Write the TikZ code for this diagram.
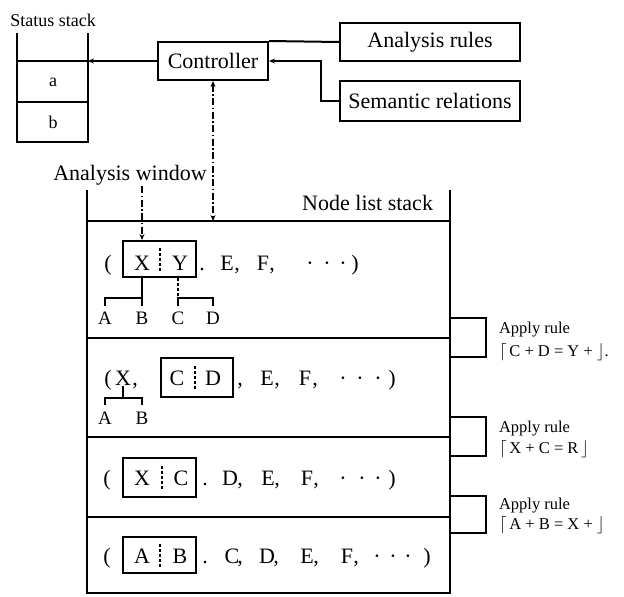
\documentclass[tikz,border=0pt]{standalone}
\usepackage{fontspec}
\setmainfont{Liberation Serif}
\usetikzlibrary{arrows.meta}
\begin{document}
\begin{tikzpicture}[x=1pt,y=-1pt,line width=2pt,
  lbl/.style={font=\fontsize{22}{26}\selectfont, inner sep=0pt},
  small/.style={font=\fontsize{18}{21}\selectfont, inner sep=0pt},
  tok/.style={font=\fontsize{22}{26}\selectfont, inner sep=0pt, anchor=base},
  leaf/.style={font=\fontsize{19}{22}\selectfont, inner sep=0pt, anchor=base},
  rulelbl/.style={font=\fontsize{16.5}{19}\selectfont, inner sep=0pt, anchor=base west},
  box/.style={draw, inner sep=0pt},
  win/.style={draw, inner sep=0pt, minimum width=73pt},
  tip/.style={-{Stealth[length=6pt,width=5pt]}},
  dd/.style={line width=1.5pt, dash pattern=on 7pt off 2.5pt on 1.5pt off 2.5pt},
  div/.style={line width=1.5pt, dash pattern=on 2.5pt off 2.5pt},
]
\useasboundingbox (0,0) rectangle (624,597);

% ---- status stack ----
\node[small] (sslabel) at (53,20) {Status stack};
\draw (17,33) -- (17,142) -- (88,142) -- (88,33);
\draw (17,102) -- (88,102);
\coordinate (ssL) at (17,61);
\coordinate (ssR) at (88,61);
\draw (ssL) -- (ssR);
\node[small] (ca) at (53,82) {a};
\node[small] (cb) at (53,122) {b};

% ---- controller and knowledge sources ----
\node[box, lbl, minimum width=110pt, minimum height=38pt] (ctrl) at (213,61) {Controller};
\node[box, lbl, minimum width=180pt, minimum height=38pt] (rules) at (430,42) {Analysis rules};
\node[box, lbl, minimum width=180pt, minimum height=40pt] (sem) at (430,101) {Semantic relations};

\draw[tip] (ctrl.west) -- (ssR);
\draw (ctrl.north east) -- (rules.west);
\draw[tip] (sem.west) -- ++(-18,0) |- (ctrl.east);

% ---- node list stack frame ----
\node[lbl, anchor=east] (nll) at (434,203) {Node list stack};
\draw (87,190) -- (87,593) -- (450,593) -- (450,190);
\coordinate (nlL) at (87,221);
\coordinate (nlR) at (450,221);
\coordinate (nltop) at (213,221);
\draw (nlL) -- (nlR);
\draw (87,338) -- (450,338);
\draw (87,437) -- (450,437);
\draw (87,517) -- (450,517);

\draw[dd, {Stealth[length=6pt,width=5pt]}-{Stealth[length=6pt,width=5pt]}] (ctrl.south) -- (nltop);

% ---- rule applications between stack levels ----
\draw (450,318) -| (486,357) -- (450,357);
\draw (450,417) -| (486,456) -- (450,456);
\draw (450,496) -| (486,533) -- (450,533);
\node[rulelbl] (ap1) at (498,333) {Apply rule};
\node[rulelbl] (rl1) at (498,356) {$\lceil$\,C + D = Y + $\rfloor$.};
\node[rulelbl] (ap2) at (498,432) {Apply rule};
\node[rulelbl] (rl2) at (498,453) {$\lceil$\,X + C = R\,$\rfloor$};
\node[rulelbl] (ap3) at (498,509) {Apply rule};
\node[rulelbl] (rl3) at (498,529) {$\lceil$\,A + B = X + $\rfloor$};

% ---- level 1 ----
\node[tok] (r1o) at (108,270) {(};
\node[win, minimum height=36pt] (xy) at (159.5,259) {};
\node[tok] (x1) at (142,270) {X};
\node[tok] (y1) at (180,270) {Y};
\draw[div] (160,248) -- (160,271);
\foreach \t/\x [count=\i] in {./202, E/227, {,}/237, F/263, {,}/272, ·/310, ·/327, ·/343, )/355}
  \node[tok, name=r1t\i] at (\x,270) {\t};
\node[lbl] (aw) at (130,175) {Analysis window};
\draw[dd, tip] (aw.south -| x1) -- (x1 |- xy.north);
\node[leaf] (A1) at (105,324.5) {A};
\node[leaf] (B1) at (142,324.5) {B};
\node[leaf] (C1) at (178,324.5) {C};
\node[leaf] (D1) at (213,324.5) {D};
\draw (xy.south -| B1) -- (142,306);
\draw (105,306) -- (105,298) -- (142,298);
\draw[div] (xy.south -| C1) -- (178,298);
\draw (178,306) -- (178,298) -- (213,298) -- (213,306);

% ---- level 2 ----
\node[tok] (r2o) at (108,385) {(};
\node[tok] (x2) at (123,385) {X};
\node[tok] (r2c) at (135,385) {,};
\node[win, minimum width=72pt, minimum height=39pt] (cd) at (197,377.5) {};
\node[tok] (c2) at (177,385) {C};
\node[tok] (d2) at (213,385) {D};
\draw[div] (195,366) -- (195,390);
\foreach \t/\x [count=\i] in {{,}/240, E/267, {,}/277, F/305, {,}/315, ·/343, ·/360, ·/378, )/392}
  \node[tok, name=r2t\i] at (\x,385) {\t};
\node[leaf] (A2) at (105,424.5) {A};
\node[leaf] (B2) at (142,424.5) {B};
\draw (x2.south) -- (123,398);
\draw (105,405) -- (105,398) -- (142,398) -- (142,405);

% ---- level 3 ----
\node[tok] (r3o) at (107,485) {(};
\node[win, minimum height=39pt] (xc) at (159.5,477.5) {};
\node[tok] (x3) at (142,485) {X};
\node[tok] (c3) at (181,485) {C};
\draw[div] (162,466) -- (162,490);
\foreach \t/\x [count=\i] in {./205, D/230, {,}/240, E/268, {,}/277, F/307, {,}/316, ·/343, ·/362, ·/378, )/392}
  \node[tok, name=r3t\i] at (\x,485) {\t};

% ---- level 4 ----
\node[tok] (r4o) at (107,563) {(};
\node[win, minimum height=36pt] (ab) at (159.5,555) {};
\node[tok] (a4) at (142,563) {A};
\node[tok] (b4) at (180,563) {B};
\draw[div] (160,544) -- (160,567);
\foreach \t/\x [count=\i] in {./205, C/232, {,}/240, D/267, {,}/276, E/307, {,}/316, F/347, {,}/356, ·/377, ·/393, ·/408, )/427}
  \node[tok, name=r4t\i] at (\x,563) {\t};
\end{tikzpicture}
\end{document}
